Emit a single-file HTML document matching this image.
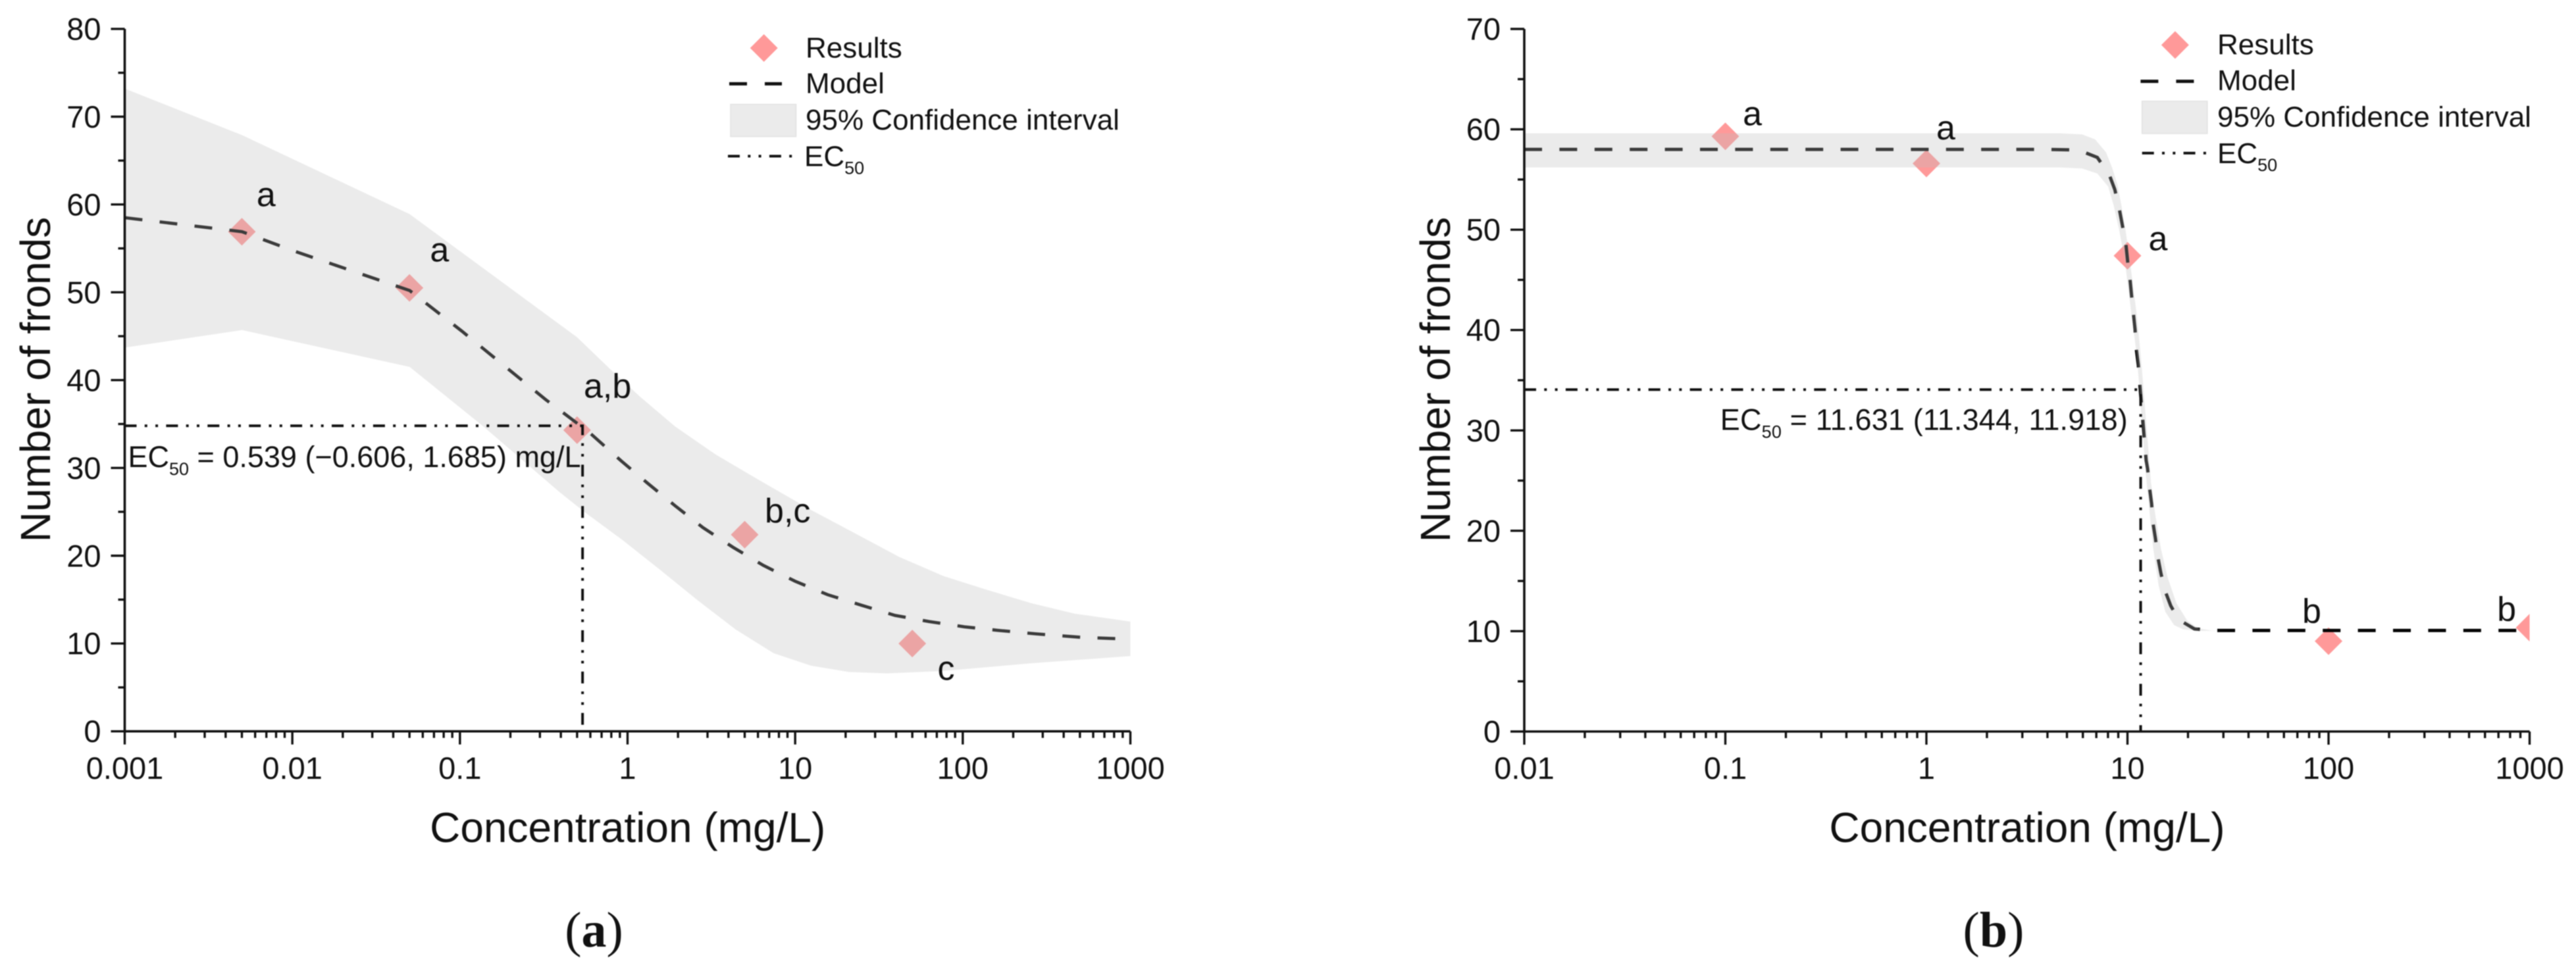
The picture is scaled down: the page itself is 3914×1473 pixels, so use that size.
<!DOCTYPE html>
<html lang="en">
<head>
<meta charset="utf-8">
<title>Number of fronds vs concentration</title>
<style>
html,body{margin:0;padding:0;background:#fff;width:3914px;height:1473px;overflow:hidden}
svg{display:block;font-family:"Liberation Sans",Arial,sans-serif;fill:#111;filter:blur(0.7px)}
.cap{font-family:"Liberation Serif",serif;font-size:76px}
</style>
</head>
<body>
<svg id="figure" xmlns="http://www.w3.org/2000/svg" width="3914" height="1473" viewBox="0 0 3914 1473">
  <rect width="3914" height="1473" fill="#fff"/>
  <defs>
    <clipPath id="clipB"><rect x="2316" y="44" width="1527.5" height="1068"/></clipPath>
  </defs>
  <g id="panelA"></g>
  <g id="panelB"></g>

  <text x="76" y="577" transform="rotate(-90 76 577)" text-anchor="middle" font-size="64">Number of fronds</text>
  <text x="953.7" y="1280" text-anchor="middle" font-size="64">Concentration (mg/L)</text>
  <text x="2203" y="577" transform="rotate(-90 2203 577)" text-anchor="middle" font-size="64">Number of fronds</text>
  <text x="3080" y="1280" text-anchor="middle" font-size="64">Concentration (mg/L)</text>

  <text x="194.5" y="710" font-size="45" textLength="688">EC<tspan font-size="27" dy="12">50</tspan><tspan dy="-12"> = 0.539 (−0.606, 1.685) mg/L</tspan></text>
  <text x="2613.8" y="653.6" font-size="45" textLength="619">EC<tspan font-size="27" dy="12">50</tspan><tspan dy="-12"> = 11.631 (11.344, 11.918)</tspan></text>

  <g>
    <polygon points="1160.7,52 1181.7,73 1160.7,94 1139.7,73" fill="#ff9999"/>
    <line x1="1108" y1="127.4" x2="1188" y2="127.4" stroke="#111" stroke-width="5" stroke-dasharray="27 27"/>
    <rect x="1110" y="158.6" width="99.5" height="49" fill="#ebebeb" stroke="#e2e2e2" stroke-width="1.5"/>
    <line x1="1106" y1="237.4" x2="1204" y2="237.4" stroke="#111" stroke-width="4" stroke-dasharray="18 12.3 4 12.3 4 12.3"/>
    <text x="1224" y="87.3" font-size="44">Results</text>
    <text x="1224" y="141.6" font-size="44">Model</text>
    <text x="1224" y="197" font-size="44">95% Confidence interval</text>
    <text x="1222" y="252.5" font-size="44">EC<tspan font-size="27" dy="12">50</tspan></text>
  </g>
  <g>
    <polygon points="3304.9,47.4 3325.9,68.4 3304.9,89.4 3283.9,68.4" fill="#ff9999"/>
    <line x1="3252.4" y1="123.6" x2="3333.4" y2="123.6" stroke="#111" stroke-width="5" stroke-dasharray="27 27"/>
    <rect x="3254.7" y="153.8" width="99.1" height="49.2" fill="#ebebeb" stroke="#e2e2e2" stroke-width="1.5"/>
    <line x1="3254.7" y1="232.7" x2="3352.7" y2="232.7" stroke="#111" stroke-width="4" stroke-dasharray="18 12.3 4 12.3 4 12.3"/>
    <text x="3369" y="82.6" font-size="44">Results</text>
    <text x="3369" y="136.9" font-size="44">Model</text>
    <text x="3369" y="192.5" font-size="44">95% Confidence interval</text>
    <text x="3369" y="247.8" font-size="44">EC<tspan font-size="27" dy="12">50</tspan></text>
  </g>

  <text class="cap" x="902.5" y="1439" text-anchor="middle">(<tspan font-weight="bold">a</tspan>)</text>
  <text class="cap" x="3029" y="1439" text-anchor="middle">(<tspan font-weight="bold">b</tspan>)</text>
</svg>
<script>
// ---- Panel A data ----
const aXTickLabels = ['0.001', '0.01', '0.1', '1', '10', '100', '1000'];
const aYTickLabels = [0, 10, 20, 30, 40, 50, 60, 70, 80];
const aResultConc = [0.005, 0.05, 0.5, 5, 50];
const aResultValues = [56.9, 50.5, 34.3, 22.4, 10.0];
const aResultLetters = ['a', 'a', 'a,b', 'b,c', 'c'];
const aLetterConc = [0.00612, 0.0663, 0.548, 6.59, 70.7];
const aLetterValues = [59.8, 53.5, 38, 23.8, 5.85];
const aModelLogConc = [-3, -2.3, -1.99, -1.3, -0.99, -0.49, -0.392, -0.226, -0.038, 0.12, 0.285, 0.45, 0.63, 0.81, 0.999, 1.194, 1.396, 1.596, 1.8, 2.01, 2.21, 2.435, 2.71, 3];
const aModelValues = [58.5, 56.9, 54.7, 50.2, 45.6, 37.8, 36.4, 34.0, 30.8, 28.25, 25.67, 23.2, 20.95, 18.9, 17.1, 15.56, 14.36, 13.2, 12.5, 11.9, 11.5, 11.1, 10.7, 10.5];
const aUpperLogConc = [-3, -2.3, -1.3, -0.301, -0.106, 0.075, 0.285, 0.524, 0.795, 1.096, 1.396, 1.622, 1.883, 2.146, 2.408, 2.668, 3];
const aUpperValues = [73.2, 67.9, 58.9, 44.88, 41.3, 38.1, 34.7, 31.55, 28.5, 25.2, 22.15, 19.85, 17.7, 16.1, 14.6, 13.4, 12.5];
const aLowerLogConc = [-3, -2.3, -1.3, -0.865, -0.406, -0.256, -0.031, 0.194, 0.42, 0.645, 0.871, 1.096, 1.321, 1.547, 1.883, 2.408, 3];
const aLowerValues = [43.7, 45.7, 41.5, 34.8, 27.25, 24.96, 21.8, 18.4, 14.9, 11.6, 8.9, 7.47, 6.76, 6.6, 6.87, 7.75, 8.57];
const aEc50Conc = 0.539;
const aEc50Value = 34.8;

// ---- Panel B data ----
const bXTickLabels = ['0.01', '0.1', '1', '10', '100', '1000'];
const bYTickLabels = [0, 10, 20, 30, 40, 50, 60, 70];
const bResultConc = [0.1, 1, 10, 100, 1000];
const bResultValues = [59.3, 56.6, 47.4, 9.0, 10.35];
const bResultLetters = ['a', 'a', 'a', 'b', 'b'];
const bLetterConc = [0.1222, 1.12, 12.73, 74, 689];
const bLetterValues = [60.4, 59, 47.95, 10.85, 11.05];
const bModelLogConc = [-2, 0.6, 0.72, 0.774, 0.85, 0.91, 0.937, 0.959, 0.975, 0.992, 1.003, 1.012, 1.02, 1.029, 1.038, 1.043, 1.054, 1.063, 1.093, 1.1, 1.109, 1.12, 1.126, 1.139, 1.15, 1.166, 1.186, 1.215, 1.254, 1.333, 1.428, 3];
const bModelValues = [58, 58, 57.95, 57.8, 57.2, 55.45, 54, 52.1, 50.4, 48.6, 46.45, 45.2, 43.5, 41.75, 40, 38.25, 36.5, 34.2, 27, 26.2, 24.4, 22.7, 20.9, 19.25, 17.5, 15.8, 14.07, 12.54, 11.16, 10.22, 10.07, 10.07];
const bUpperLogConc = [-2, 0.6645, 0.7735, 0.839, 0.8936, 0.926, 0.95, 0.97, 0.992, 1.019, 1.047, 1.068, 1.117, 1.139, 1.166, 1.199, 1.243, 1.297, 1.352, 1.417, 1.515];
const bUpperValues = [59.6, 59.6, 59.5, 59.0, 57.7, 56.05, 54.5, 52.4, 49.75, 45.8, 41.4, 37.05, 24.8, 21.5, 18.25, 15.4, 12.8, 11.05, 10.28, 10.07, 10.05];
const bLowerLogConc = [-2, 0.6645, 0.7735, 0.85, 0.904, 0.9315, 0.959, 0.987, 1.014, 1.042, 1.056, 1.09, 1.106, 1.128, 1.155, 1.188, 1.232, 1.276, 1.352, 1.515];
const bLowerValues = [56.2, 56.2, 56.1, 55.6, 54.3, 52.4, 49.95, 46.9, 42.5, 38.15, 35.1, 25.9, 22.6, 18.25, 14.55, 11.94, 10.6, 10.18, 10.03, 10.05];
const bEc50Conc = 11.631;
const bEc50Value = 34.07;

const NS = 'http://www.w3.org/2000/svg';
function make(tag, attrs, parent) {
  const el = document.createElementNS(NS, tag);
  for (const k in attrs) el.setAttribute(k, attrs[k]);
  parent.appendChild(el);
  return el;
}

function drawPanel(root, id, frame, d) {
  const x = lc => frame.x0 + (lc - frame.logMin) / (frame.logMax - frame.logMin) * (frame.x1 - frame.x0);
  const y = v => frame.y0 + v / frame.vMax * (frame.y1 - frame.y0);
  const clip = frame.clip ? {'clip-path': frame.clip} : {};

  // results (under band)
  const markers = make('g', clip, root);
  
  
  d.resultConc.forEach((c, i) => {
    const px = x(Math.log10(c)), py = y(d.resultValues[i]), r = 21;
    const m = make('polygon', {points: `${px},${py - r} ${px + r},${py} ${px},${py + r} ${px - r},${py}`, fill: '#ff9999'}, markers);
    
    
  });

  // model
  const model = make('polyline', {
    points: d.modelLog.map((l, i) => x(l) + ',' + y(d.modelValues[i])).join(' '),
    fill: 'none', stroke: '#000', 'stroke-width': frame.modelWidth, 'stroke-dasharray': '27 26.4'
  }, root);
  
  

  // confidence band (translucent, above model and markers)
  const upper = d.upperLog.map((l, i) => x(l) + ',' + y(d.upperValues[i]));
  const lower = d.lowerLog.map((l, i) => x(l) + ',' + y(d.lowerValues[i])).reverse();
  const band = make('polygon', {points: upper.concat(lower).join(' '), fill: '#bebebe', 'fill-opacity': 0.31}, root);
  
  

  // EC50 guide
  const ex = x(Math.log10(d.ec50Conc)), ey = y(d.ec50Value);
  const guide = make('polyline', {
    points: `${frame.x0},${ey} ${ex},${ey} ${ex},${frame.y0}`,
    fill: 'none', stroke: '#111', 'stroke-width': 4, 'stroke-dasharray': '18 12.3 4 12.3 4 12.3'
  }, root);
  
  

  // axes
  const axes = make('g', {stroke: '#111', 'stroke-width': 3.6, fill: 'none'}, root);
  
  
  const xLine = make('line', {x1: frame.x0, x2: frame.x1, y1: frame.y0, y2: frame.y0}, axes);
  
  
  const yLine = make('line', {x1: frame.x0, x2: frame.x0, y1: frame.y0, y2: frame.y1}, axes);
  
  

  const tickGroup = make('g', {stroke: '#111', 'stroke-width': 3.4}, root);
  
  

  d.xLabels.forEach((lab, i) => {
    const lc = frame.logMin + i, px = x(lc);
    make('line', {x1: px, x2: px, y1: frame.y0, y2: frame.y0 + 20}, tickGroup);
    const t = make('text', {x: px, y: 1184, 'text-anchor': 'middle', 'font-size': 47}, root);
    t.textContent = lab;
    
    
    if (i < d.xLabels.length - 1) {
      for (let m = 2; m < 10; m++) {
        const mx = x(lc + Math.log10(m));
        make('line', {x1: mx, x2: mx, y1: frame.y0, y2: frame.y0 + 10}, tickGroup);
      }
    }
  });
  d.yLabels.forEach((v, i) => {
    const py = y(v);
    make('line', {x1: frame.x0, x2: frame.x0 - 21, y1: py, y2: py}, tickGroup);
    const t = make('text', {x: frame.x0 - 36, y: py + 16.5, 'text-anchor': 'end', 'font-size': 47}, root);
    t.textContent = v;
    
    
    if (i < d.yLabels.length - 1) {
      const my = y(v + 5);
      make('line', {x1: frame.x0, x2: frame.x0 - 10, y1: my, y2: my}, tickGroup);
    }
  });

  // significance letters
  d.letters.forEach((s, i) => {
    const t = make('text', {x: x(Math.log10(d.letterConc[i])), y: y(d.letterValues[i]), 'font-size': 52}, root);
    t.textContent = s;
    
    
  });
}

drawPanel(document.getElementById('panelA'), 'a',
  {x0: 189.5, x1: 1717.5, logMin: -3, logMax: 3, y0: 1111.7, y1: 43.9, vMax: 80, modelWidth: 4.8},
  {resultConc: aResultConc, resultValues: aResultValues, letters: aResultLetters, letterConc: aLetterConc, letterValues: aLetterValues,
   modelLog: aModelLogConc, modelValues: aModelValues, upperLog: aUpperLogConc, upperValues: aUpperValues,
   lowerLog: aLowerLogConc, lowerValues: aLowerValues, ec50Conc: aEc50Conc, ec50Value: aEc50Value,
   xLabels: aXTickLabels, yLabels: aYTickLabels});

drawPanel(document.getElementById('panelB'), 'b',
  {x0: 2316, x1: 3843.5, logMin: -2, logMax: 3, y0: 1112, y1: 44, vMax: 70, modelWidth: 5, clip: 'url(#clipB)'},
  {resultConc: bResultConc, resultValues: bResultValues, letters: bResultLetters, letterConc: bLetterConc, letterValues: bLetterValues,
   modelLog: bModelLogConc, modelValues: bModelValues, upperLog: bUpperLogConc, upperValues: bUpperValues,
   lowerLog: bLowerLogConc, lowerValues: bLowerValues, ec50Conc: bEc50Conc, ec50Value: bEc50Value,
   xLabels: bXTickLabels, yLabels: bYTickLabels});
</script>
</body>
</html>
